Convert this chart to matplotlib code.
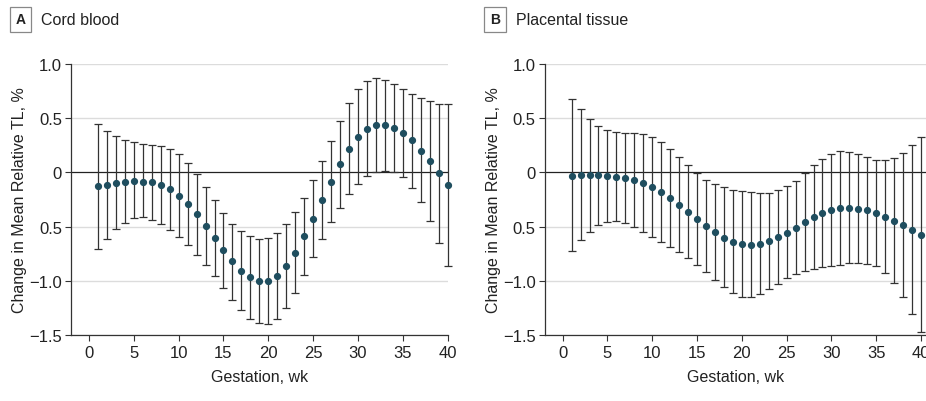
import matplotlib
matplotlib.use("Agg")
import matplotlib.pyplot as plt
import numpy as np

plt.rcParams["font.family"] = ["Liberation Sans", "DejaVu Sans"]

weeks = list(range(1, 41))

# A: cord blood (estimate, upper CI, lower CI)
cord_est = [-0.13, -0.114, -0.098, -0.089, -0.08, -0.086, -0.092, -0.114, -0.157, -0.215,
            -0.292, -0.387, -0.498, -0.609, -0.72, -0.821, -0.91, -0.969, -1.0, -1.0,
            -0.956, -0.867, -0.741, -0.59, -0.427, -0.255, -0.086, 0.077, 0.212, 0.329,
            0.403, 0.437, 0.437, 0.412, 0.363, 0.295, 0.2, 0.101, -0.006, -0.117]
cord_hi = [0.446, 0.384, 0.338, 0.298, 0.277, 0.264, 0.255, 0.24, 0.215, 0.169,
           0.086, -0.015, -0.138, -0.258, -0.372, -0.477, -0.544, -0.59, -0.612, -0.606,
           -0.56, -0.48, -0.369, -0.234, -0.074, 0.108, 0.292, 0.474, 0.637, 0.766,
           0.839, 0.867, 0.855, 0.818, 0.769, 0.72, 0.683, 0.655, 0.633, 0.627]
cord_lo = [-0.707, -0.61, -0.523, -0.467, -0.424, -0.415, -0.437, -0.474, -0.529, -0.597,
           -0.67, -0.76, -0.855, -0.959, -1.064, -1.175, -1.273, -1.353, -1.393, -1.399,
           -1.353, -1.248, -1.113, -0.95, -0.778, -0.615, -0.461, -0.326, -0.203, -0.105,
           -0.037, 0.006, 0.015, 0.006, -0.046, -0.141, -0.277, -0.446, -0.649, -0.867]

# B: placental tissue
plac_est = [-0.031, -0.025, -0.022, -0.028, -0.031, -0.04, -0.052, -0.074, -0.098, -0.138,
            -0.185, -0.237, -0.298, -0.363, -0.43, -0.498, -0.554, -0.603, -0.643, -0.664,
            -0.67, -0.658, -0.633, -0.597, -0.557, -0.51, -0.458, -0.415, -0.372, -0.344,
            -0.332, -0.329, -0.335, -0.351, -0.378, -0.409, -0.449, -0.489, -0.535, -0.578]
plac_hi = [0.673, 0.581, 0.495, 0.43, 0.394, 0.375, 0.366, 0.36, 0.351, 0.326,
           0.277, 0.212, 0.138, 0.065, -0.006, -0.068, -0.111, -0.138, -0.163, -0.175,
           -0.185, -0.188, -0.188, -0.163, -0.126, -0.077, -0.003, 0.071, 0.126, 0.172,
           0.197, 0.191, 0.166, 0.138, 0.117, 0.114, 0.135, 0.181, 0.249, 0.326]
plac_lo = [-0.729, -0.627, -0.55, -0.486, -0.455, -0.449, -0.47, -0.507, -0.55, -0.597,
           -0.643, -0.686, -0.735, -0.79, -0.852, -0.919, -0.993, -1.058, -1.113, -1.147,
           -1.15, -1.125, -1.079, -1.03, -0.975, -0.941, -0.91, -0.892, -0.873, -0.864,
           -0.852, -0.836, -0.836, -0.843, -0.867, -0.931, -1.021, -1.153, -1.304, -1.47]

yticks = [-1.5, -1.0, -0.5, 0, 0.5, 1.0]
ytick_labels = ["\u22121.5", "\u22121.0", "0.5", "0", "0.5", "1.0"]
xticks = [0, 5, 10, 15, 20, 25, 30, 35, 40]

W, H = 926, 402
fig = plt.figure(figsize=(W / 100, H / 100), dpi=100)
ax_a = fig.add_axes([71 / W, 66 / H, 376.7 / W, 271 / H])
ax_b = fig.add_axes([544.7 / W, 66 / H, 381.7 / W, 271 / H])

panels = [
    (ax_a, "A", "Cord blood", cord_est, cord_hi, cord_lo, 40.0, 20.8, 41),
    (ax_b, "B", "Placental tissue", plac_est, plac_hi, plac_lo, 40.6, 495.0, 516.3),
]
for ax, letter, title, est, hi, lo, xmax, bx, tx in panels:
    est = np.array(est); hi = np.array(hi); lo = np.array(lo)
    for y in yticks:
        if y != 0:
            ax.axhline(y, color="#dcdcdc", lw=1.0, zorder=0)
    ax.axhline(0, color="#222222", lw=0.9, zorder=1)
    ax.errorbar(weeks, est, yerr=[est - lo, hi - est], fmt="o", ms=4.2,
                color="#1f4e5f", ecolor="#333333", elinewidth=0.9, capsize=2.6,
                capthick=0.9, zorder=3, clip_on=False)
    ax.set_xlim(-2, xmax)
    ax.set_ylim(-1.5, 1.0)
    ax.set_xticks(xticks)
    ax.set_yticks(yticks)
    ax.set_yticklabels(ytick_labels)
    ax.tick_params(labelsize=12, colors="#333333", length=4, width=0.8, pad=2.5)
    ax.tick_params(axis="x", labelcolor="#222222", pad=3.5)
    ax.tick_params(axis="y", labelcolor="#222222")
    for s in ("top", "right"):
        ax.spines[s].set_visible(False)
    for s in ("left", "bottom"):
        ax.spines[s].set_color("#333333")
        ax.spines[s].set_linewidth(0.9)
    ax.set_xlabel("Gestation, wk", fontsize=11.5, color="#222222", labelpad=6)
    ax.set_ylabel("Change in Mean Relative TL, %", fontsize=11.5, color="#222222", labelpad=1.5)
    fig.text(bx / W, 1 - 20.3 / H, letter, fontsize=10, fontweight="bold",
             ha="center", va="center", color="#222222",
             bbox=dict(boxstyle="square,pad=0.4", fc="white", ec="#888888", lw=0.9))
    fig.text(tx / W, 1 - 20.3 / H, title, fontsize=11.5, ha="left", va="center",
             color="#222222")

fig.savefig("out.png", dpi=100)
